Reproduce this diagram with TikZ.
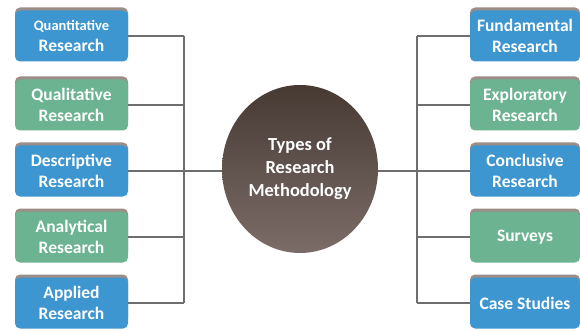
\documentclass[tikz,border=0pt]{standalone}
\usepackage{fontspec}
\setmainfont{Carlito}
\usetikzlibrary{shapes.geometric}
\definecolor{boxblue}{HTML}{3D96D0}
\definecolor{boxgreen}{HTML}{6BB391}
\definecolor{boxshade}{HTML}{9C8E86}
\definecolor{linegray}{HTML}{6E6E6E}
\definecolor{elltop}{HTML}{463A33}
\definecolor{ellbot}{HTML}{7C6C68}
\tikzset{
  x=1pt, y=-1pt,
  catbox/.style={rounded corners=5pt, minimum height=51pt, inner sep=0pt,
    text=white, align=center, font=\fontsize{17.5}{21}\selectfont\bfseries},
  lbox/.style={catbox, minimum width=113pt},
  rbox/.style={catbox, minimum width=110pt},
  bluefill/.style={fill=boxblue},
  greenfill/.style={fill=boxgreen},
  shadebox/.style={fill=boxshade, rounded corners=5pt},
  conn/.style={draw=linegray, line width=1.3pt},
}
\begin{document}
\begin{tikzpicture}
\useasboundingbox (0,0) rectangle (580,331);
\fill[white] (0,0) rectangle (580,331);
% shadows (top strip)
\foreach \y in {36,105,171,237,303}{
  \fill[shadebox] (15,\y-28.5) rectangle (128,\y+20);
  \fill[shadebox] (470,\y-28.5) rectangle (580,\y+20);
}
% left boxes
\node[lbox, bluefill] (L1) at (71.5,36) {\fontsize{14.5}{18}\selectfont Quantitative\\Research};
\node[lbox, greenfill] (L2) at (71.5,105) {Qualitative\\Research};
\node[lbox, bluefill] (L3) at (71.5,171) {Descriptive\\Research};
\node[lbox, greenfill] (L4) at (71.5,237) {Analytical\\Research};
\node[lbox, bluefill] (L5) at (71.5,303) {Applied\\Research};
% right boxes
\node[rbox, bluefill] (R1) at (525,36) {Fundamental\\Research};
\node[rbox, greenfill] (R2) at (525,105) {Exploratory\\Research};
\node[rbox, bluefill] (R3) at (525,171) {Conclusive\\Research};
\node[rbox, greenfill] (R4) at (525,237) {Surveys};
\node[rbox, bluefill] (R5) at (525,303) {Case Studies};
% centre
\node[ellipse, minimum width=156pt, minimum height=168pt, inner sep=0pt,
  top color=elltop, bottom color=ellbot, text=white, align=center,
  font=\fontsize{18.4}{23}\selectfont\bfseries] (C) at (300,169)
  {Types of\\Research\\Methodology};
% buses
\coordinate (lt) at (184,36);
\coordinate (lb) at (184,303);
\coordinate (rt) at (417,36);
\coordinate (rb) at (417,303);
\draw[conn] (lt) -- (lb);
\draw[conn] (rt) -- (rb);
\foreach \n in {L1,L2,L3,L4,L5}{\draw[conn] (\n.east) -- (\n.east -| lt);}
\foreach \n in {R1,R2,R3,R4,R5}{\draw[conn] (\n.west) -- (\n.west -| rt);}
\draw[conn] (C.west |- L3.east) -- (L3.east -| lt);
\draw[conn] (C.east |- R3.west) -- (R3.west -| rt);
\end{tikzpicture}
\end{document}
